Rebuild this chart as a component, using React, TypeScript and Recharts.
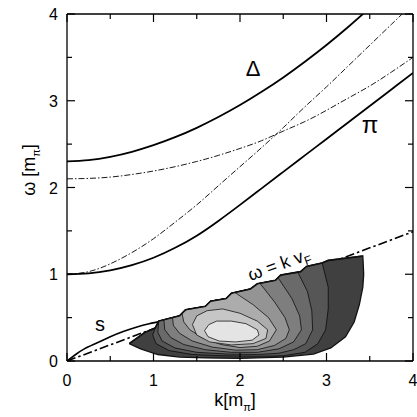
import { ComposedChart, Line, Scatter, XAxis, YAxis } from 'recharts';

type Pt = [number, number];

const K_TICKS = [0, 0.5, 1, 1.5, 2, 2.5, 3, 3.5, 4];
const W_TICKS = [0, 0.5, 1, 1.5, 2, 2.5, 3, 3.5, 4];

// solid branches
const DELTA_BRANCH: Pt[] = [
  [0, 2.3], [0.25, 2.316], [0.5, 2.354], [0.75, 2.412], [1, 2.488], [1.25, 2.58], [1.5, 2.688],
  [1.75, 2.812], [2, 2.95], [2.25, 3.103], [2.5, 3.269], [2.75, 3.45], [3, 3.643], [3.25, 3.85], [3.5, 4.07],
];
const PION_BRANCH: Pt[] = [
  [0, 1.0], [0.25, 1.01], [0.5, 1.045], [0.75, 1.105], [1, 1.19], [1.25, 1.305], [1.5, 1.445], [1.75, 1.615],
  [2, 1.8], [2.25, 1.99], [2.5, 2.18], [2.75, 2.37], [3, 2.56], [3.25, 2.75], [3.5, 2.94], [3.75, 3.13], [4, 3.32],
];
const SOUND_BRANCH: Pt[] = [
  [0, 0], [0.1, 0.075], [0.2, 0.14], [0.35, 0.21], [0.5, 0.28], [0.65, 0.34], [0.8, 0.39], [0.95, 0.43], [1.1, 0.46],
];

// thin dash-dot (free) curves
const FREE_PION: Pt[] = [
  [0, 1.0], [0.25, 1.03], [0.5, 1.12], [0.75, 1.25], [1, 1.41], [1.25, 1.6], [1.5, 1.8], [1.75, 2.02],
  [2, 2.24], [2.25, 2.46], [2.5, 2.69], [2.75, 2.93], [3, 3.16], [3.25, 3.4], [3.5, 3.64], [3.75, 3.88], [4, 4.12],
];
const DELTA_HOLE: Pt[] = [
  [0, 2.1], [0.25, 2.105], [0.5, 2.12], [0.75, 2.15], [1, 2.19], [1.25, 2.24], [1.5, 2.3], [1.75, 2.37],
  [2, 2.45], [2.25, 2.54], [2.5, 2.65], [2.75, 2.76], [3, 2.89], [3.25, 3.03], [3.5, 3.17], [3.75, 3.33], [4, 3.5],
];
const FERMI_LINE: Pt[] = [[0, 0], [4, 1.49]];

// contour: stair-stepped upper edge and outer bottom edge
const STAIR: Pt[] = [
  [0.72, 0.2], [0.9, 0.33], [1.02, 0.38], [1.06, 0.46], [1.3, 0.52], [1.37, 0.59], [1.6, 0.63], [1.66, 0.69],
  [1.84, 0.72], [1.9, 0.78], [2.12, 0.83], [2.2, 0.89], [2.41, 0.93], [2.47, 0.99], [2.7, 1.03], [2.77, 1.09],
  [2.95, 1.13], [3.02, 1.16], [3.42, 1.21],
];
const OUTLINE_BOTTOM: Pt[] = [
  [3.43, 1.0], [3.42, 0.85], [3.38, 0.65], [3.32, 0.45], [3.22, 0.28], [3.05, 0.15], [2.85, 0.08], [2.5, 0.045],
  [2.0, 0.03], [1.6, 0.035], [1.3, 0.045], [1.05, 0.075], [0.85, 0.14],
];
// open rings: from left stair point down, round the bottom, up to right stair point
const RING_SIDES: Pt[][] = [
  [[1.02, 0.38], [0.99, 0.3], [1.03, 0.2], [1.18, 0.12], [1.45, 0.075], [1.8, 0.06], [2.2, 0.055], [2.5, 0.06],
    [2.75, 0.1], [2.9, 0.2], [2.99, 0.36], [3.02, 0.6], [3.02, 0.85], [2.95, 1.13]],
  [[1.06, 0.46], [1.05, 0.33], [1.1, 0.23], [1.25, 0.15], [1.5, 0.1], [1.85, 0.08], [2.2, 0.075], [2.45, 0.09],
    [2.62, 0.13], [2.76, 0.2], [2.84, 0.36], [2.83, 0.58], [2.78, 0.8], [2.67, 1.02]],
  [[1.12, 0.475], [1.13, 0.36], [1.2, 0.27], [1.35, 0.19], [1.6, 0.13], [1.9, 0.1], [2.2, 0.1], [2.45, 0.14],
    [2.62, 0.22], [2.71, 0.36], [2.69, 0.52], [2.6, 0.72], [2.44, 0.96]],
  [[1.22, 0.5], [1.23, 0.41], [1.3, 0.32], [1.45, 0.23], [1.68, 0.16], [1.95, 0.125], [2.2, 0.13], [2.4, 0.18],
    [2.53, 0.26], [2.57, 0.36], [2.52, 0.5], [2.4, 0.68], [2.23, 0.896]],
  [[1.33, 0.55], [1.35, 0.45], [1.42, 0.36], [1.56, 0.27], [1.78, 0.19], [2.0, 0.155], [2.2, 0.17], [2.34, 0.23],
    [2.42, 0.36], [2.33, 0.5], [2.15, 0.65], [1.94, 0.79]],
];
// closed inner rings
const INNER_RINGS: Pt[][] = [
  [[1.45, 0.42], [1.5, 0.52], [1.62, 0.58], [1.8, 0.6], [2.0, 0.55], [2.2, 0.46], [2.32, 0.36], [2.3, 0.26],
    [2.15, 0.2], [1.9, 0.185], [1.65, 0.22], [1.5, 0.3], [1.45, 0.42]],
  [[1.59, 0.35], [1.64, 0.42], [1.73, 0.46], [1.9, 0.46], [2.07, 0.43], [2.2, 0.36], [2.22, 0.3], [2.14, 0.24],
    [1.95, 0.22], [1.76, 0.23], [1.63, 0.28], [1.59, 0.35]],
];
const BAND_FILLS = ['#404040', '#565656', '#6a6a6a', '#7e7e7e', '#949494', '#acacac', '#c6c6c6', '#e4e4e4'];

const toPts = (arr: Pt[]) => arr.map(([k, w]) => ({ k, w }));

const ringPolygon = (side: Pt[]) => {
  const kL = side[0][0];
  const kR = side[side.length - 1][0];
  const top = STAIR.filter(([k]) => k > kL + 1e-6 && k < kR - 1e-6).reverse();
  return toPts([...side, ...top, side[0]]);
};

const FONT = '"Liberation Sans", Arial, Helvetica, sans-serif';
const AX = { stroke: '#000', strokeWidth: 1.3 };

function BottomTick({ x, y, payload }: any) {
  const v = payload.value;
  const major = Number.isInteger(v);
  return (
    <g>
      <line x1={x} x2={x} y1={y} y2={y - (major ? 8 : 5)} stroke="#000" strokeWidth={1.2} />
      {major && (
        <text x={x} y={y + 25} textAnchor="middle" fontSize={16} fontFamily={FONT} fill="#000">{v}</text>
      )}
    </g>
  );
}
function TopTick({ x, y, payload }: any) {
  const major = Number.isInteger(payload.value);
  return <line x1={x} x2={x} y1={y} y2={y + (major ? 8 : 5)} stroke="#000" strokeWidth={1.2} />;
}
function LeftTick({ x, y, payload }: any) {
  const v = payload.value;
  const major = Number.isInteger(v);
  return (
    <g>
      <line x1={x} x2={x + (major ? 8 : 5)} y1={y} y2={y} stroke="#000" strokeWidth={1.2} />
      {major && (
        <text x={x - 9} y={y + 6} textAnchor="end" fontSize={16} fontFamily={FONT} fill="#000">{v}</text>
      )}
    </g>
  );
}
function RightTick({ x, y, payload }: any) {
  const major = Number.isInteger(payload.value);
  return <line x1={x} x2={x - (major ? 8 : 5)} y1={y} y2={y} stroke="#000" strokeWidth={1.2} />;
}

const noShape = () => <g />;

export default function App() {
  const thin = { stroke: '#000', strokeWidth: 0.9, strokeDasharray: '6 2 1.5 2' };
  return (
    <div style={{ position: 'absolute', left: 0, top: 0, width: 417, height: 417, background: '#fff' }}>
      <ComposedChart width={417} height={417} margin={{ top: 0, right: 0, bottom: 0, left: 0 }}>
        <XAxis xAxisId={0} dataKey="k" type="number" domain={[0, 4]} ticks={K_TICKS} height={56}
          tickSize={0} tickMargin={0} tickLine={false} axisLine={AX} tick={<BottomTick />} allowDataOverflow interval={0} />
        <XAxis xAxisId="top" orientation="top" dataKey="k" type="number" domain={[0, 4]} ticks={K_TICKS} height={14}
          tickSize={0} tickMargin={0} tickLine={false} axisLine={AX} tick={<TopTick />} allowDataOverflow interval={0} />
        <YAxis yAxisId={0} dataKey="w" type="number" domain={[0, 4]} ticks={W_TICKS} width={67}
          tickSize={0} tickMargin={0} tickLine={false} axisLine={AX} tick={<LeftTick />} allowDataOverflow interval={0} />
        <YAxis yAxisId="right" orientation="right" dataKey="w" type="number" domain={[0, 4]} ticks={W_TICKS} width={4}
          tickSize={0} tickMargin={0} tickLine={false} axisLine={AX} tick={<RightTick />} allowDataOverflow interval={0} />

        <Scatter data={toPts([...STAIR, ...OUTLINE_BOTTOM, STAIR[0]])} lineType="joint"
          line={{ fill: BAND_FILLS[0], stroke: '#111', strokeWidth: 1.3 }} shape={noShape} isAnimationActive={false} />
        {RING_SIDES.map((side, i) => (
          <Scatter key={`r${i}`} data={ringPolygon(side)} lineType="joint"
            line={{ fill: BAND_FILLS[i + 1], stroke: '#000', strokeWidth: 0.7 }} shape={noShape} isAnimationActive={false} />
        ))}
        {INNER_RINGS.map((ring, i) => (
          <Scatter key={`c${i}`} data={toPts(ring)} lineType="joint"
            line={{ fill: BAND_FILLS[RING_SIDES.length + 1 + i], stroke: '#000', strokeWidth: 0.7 }} shape={noShape} isAnimationActive={false} />
        ))}
        <Scatter data={toPts(STAIR)} lineType="joint" line={{ fill: 'none', stroke: '#111', strokeWidth: 1.6 }}
          shape={noShape} isAnimationActive={false} />

        <Line data={toPts(FREE_PION)} dataKey="w" type="natural" dot={false} {...thin} isAnimationActive={false} />
        <Line data={toPts(DELTA_HOLE)} dataKey="w" type="natural" dot={false} {...thin} isAnimationActive={false} />
        <Line data={toPts(DELTA_BRANCH)} dataKey="w" type="natural" dot={false} stroke="#000" strokeWidth={1.8} isAnimationActive={false} />
        <Line data={toPts(PION_BRANCH)} dataKey="w" type="natural" dot={false} stroke="#000" strokeWidth={1.8} isAnimationActive={false} />
        <Line data={toPts(SOUND_BRANCH)} dataKey="w" type="natural" dot={false} stroke="#000" strokeWidth={1.6} isAnimationActive={false} />
        <Line data={toPts(FERMI_LINE)} dataKey="w" type="linear" dot={false} stroke="#000" strokeWidth={1.6}
          strokeDasharray="9 3 2.5 3" isAnimationActive={false} />
      </ComposedChart>

      <svg width={417} height={417} style={{ position: 'absolute', left: 0, top: 0, pointerEvents: 'none' }}
        fontFamily={FONT} fill="#000">
        <text transform="translate(35,170) rotate(-90)" textAnchor="middle" fontSize={18}>
          ω [m<tspan fontSize={11} dy={5}>π</tspan><tspan dy={-5}>]</tspan>
        </text>
        <text x={235} y={406} textAnchor="middle" fontSize={18}>
          k[m<tspan fontSize={11} dy={5}>π</tspan><tspan dy={-5}>]</tspan>
        </text>
        <text x={253} y={76} textAnchor="middle" fontSize={22}>Δ</text>
        <text x={370} y={133} textAnchor="middle" fontSize={24}>π</text>
        <text x={100} y={331} textAnchor="middle" fontSize={20}>s</text>
        <text transform="translate(281,270) rotate(-20)" textAnchor="middle" fontSize={18}>
          ω = k v<tspan fontSize={12} dy={4}>F</tspan>
        </text>
      </svg>
    </div>
  );
}
